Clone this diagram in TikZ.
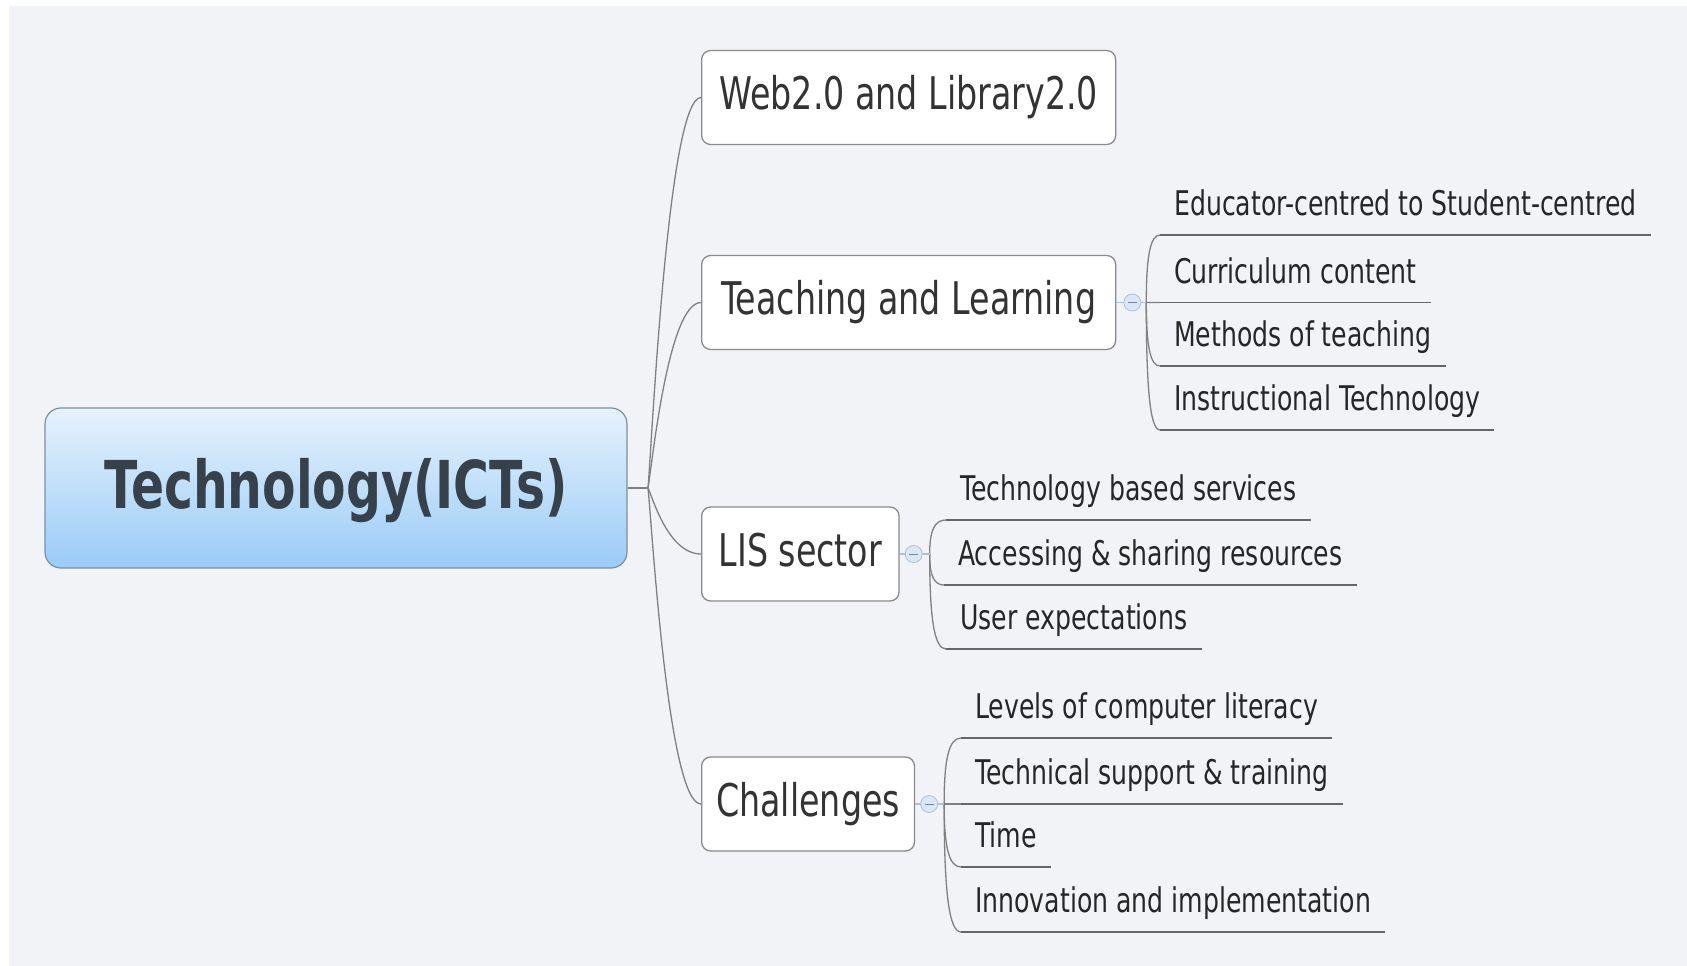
\documentclass[tikz,border=0pt]{standalone}
\usepackage{fontspec}
\setmainfont[FakeStretch=0.74]{DejaVu Sans}
\usetikzlibrary{calc}
\definecolor{bgc}{HTML}{F1F3F7}
\definecolor{linec}{HTML}{808080}
\definecolor{boxc}{HTML}{8A8A8A}
\definecolor{txtc}{HTML}{333333}
\definecolor{subtxt}{HTML}{262626}
\definecolor{maintxt}{HTML}{36414C}
\definecolor{maintop}{HTML}{E6F2FC}
\definecolor{mainbot}{HTML}{9ACBF7}
\definecolor{mainborder}{HTML}{7890A6}
\definecolor{btnfill}{HTML}{DCE7F6}
\definecolor{btndraw}{HTML}{A9C0E0}
\definecolor{ulc}{HTML}{666666}
\newcommand\mmtrunk[2]{\draw[conn] let \p1=(#1), \p2=(#2) in (\p1) .. controls ({\x1+0.08*(\x2-\x1)},{\y1+0.13*(\y2-\y1)}) and ({\x1+0.38*(\x2-\x1)},\y2) .. (\p2);}
\newcommand\mmsub[2]{\draw[conn] (#1) .. controls ($(#1)!0.7!(#1 |- #2.south west)$) and ($(#2.south west)!0.7!(#1 |- #2.south west)$) .. (#2.south west); \draw[uline] (#2.south west) -- (#2.south east);}
\begin{document}
\begin{tikzpicture}[x=1pt,y=-1pt,
 mainbox/.style={draw=mainborder, line width=1.2pt, rounded corners=16pt, top color=maintop, bottom color=mainbot, minimum width=582pt, minimum height=160pt, font=\fontsize{66}{70}\selectfont\bfseries, text=maintxt, text height=48pt, text depth=8pt, inner sep=0pt},
 pbox/.style={draw=boxc, line width=1.3pt, rounded corners=9pt, fill=white, minimum height=94pt, inner xsep=17pt, inner ysep=0pt, text height=33pt, text depth=9pt, font=\fontsize{45}{50}\selectfont, text=txtc, anchor=west},
 cbox/.style={inner xsep=14pt, inner ysep=0pt, text height=25pt, text depth=19pt, font=\fontsize{34}{38}\selectfont, text=subtxt, anchor=south west},
 conn/.style={draw=linec, line width=1.3pt},
 uline/.style={draw=ulc, line width=1.6pt},
 btnline/.style={draw=btndraw, line width=1.2pt},
 btn/.style={circle, draw=btndraw, fill=btnfill, line width=0.8pt, minimum size=17pt, inner sep=0pt, path picture={\draw[btndraw!70!black, line width=1pt] ([xshift=-4.5pt]path picture bounding box.center) -- ([xshift=4.5pt]path picture bounding box.center);}}
]
\useasboundingbox (0,0) rectangle (1687,966);
\fill[white] (0,0) rectangle (1687,966);
\fill[bgc] (9,6) rectangle (1687,966);

% central topic
\node[mainbox] (main) at (336,488) {Technology(ICTs)};
\coordinate (j0) at (648,488);

% main topics
\node[pbox, minimum width=414pt] (web) at (701,97.5) {Web2.0 and Library2.0};
\node[pbox, minimum width=414pt] (teach) at (701,302.5) {Teaching and Learning};
\node[pbox] (lis) at (701,554) {LIS sector};
\node[pbox, inner xsep=14.5pt] (chall) at (701,804) {Challenges};

% trunk connectors
\draw[conn] (main.east) -- (j0);
\mmtrunk{j0}{web.west}
\mmtrunk{j0}{teach.west}
\mmtrunk{j0}{lis.west}
\mmtrunk{j0}{chall.west}

% junctions of subtopics
\coordinate (tj) at ($(teach.east)+(30,0)$);
\coordinate (lj) at ($(lis.east)+(30,0)$);
\coordinate (cj) at ($(chall.east)+(29,0)$);

% Teaching and Learning subtopics
\node[cbox] (t1) at (1160,235) {Educator-centred to Student-centred};
\node[cbox] (t2) at (1160,302.5) {Curriculum content};
\node[cbox] (t3) at (1160,366) {Methods of teaching};
\node[cbox] (t4) at (1160,430) {Instructional Technology};
\mmsub{tj}{t1}
\mmsub{tj}{t2}
\mmsub{tj}{t3}
\mmsub{tj}{t4}

% LIS sector subtopics
\node[cbox] (l1) at (946,520) {Technology based services};
\node[cbox] (l2) at (944,585) {Accessing \& sharing resources};
\node[cbox] (l3) at (946,649) {User expectations};
\mmsub{lj}{l1}
\mmsub{lj}{l2}
\mmsub{lj}{l3}

% Challenges subtopics
\node[cbox] (c1) at (961,738) {Levels of computer literacy};
\node[cbox] (c2) at (961,804) {Technical support \& training};
\node[cbox] (c3) at (961,867) {Time};
\node[cbox] (c4) at (961,932) {Innovation and implementation};
\mmsub{cj}{c1}
\mmsub{cj}{c2}
\mmsub{cj}{c3}
\mmsub{cj}{c4}

% box-to-junction links and collapse buttons
\draw[btnline] (teach.east) -- (tj);
\draw[btnline] (lis.east) -- (lj);
\draw[btnline] (chall.east) -- (cj);
\node[btn] (tb) at ($(teach.east)+(16,0)$) {};
\node[btn] (lb) at ($(lis.east)+(14,0)$) {};
\node[btn] (cb) at ($(chall.east)+(14,0)$) {};
\end{tikzpicture}
\end{document}
